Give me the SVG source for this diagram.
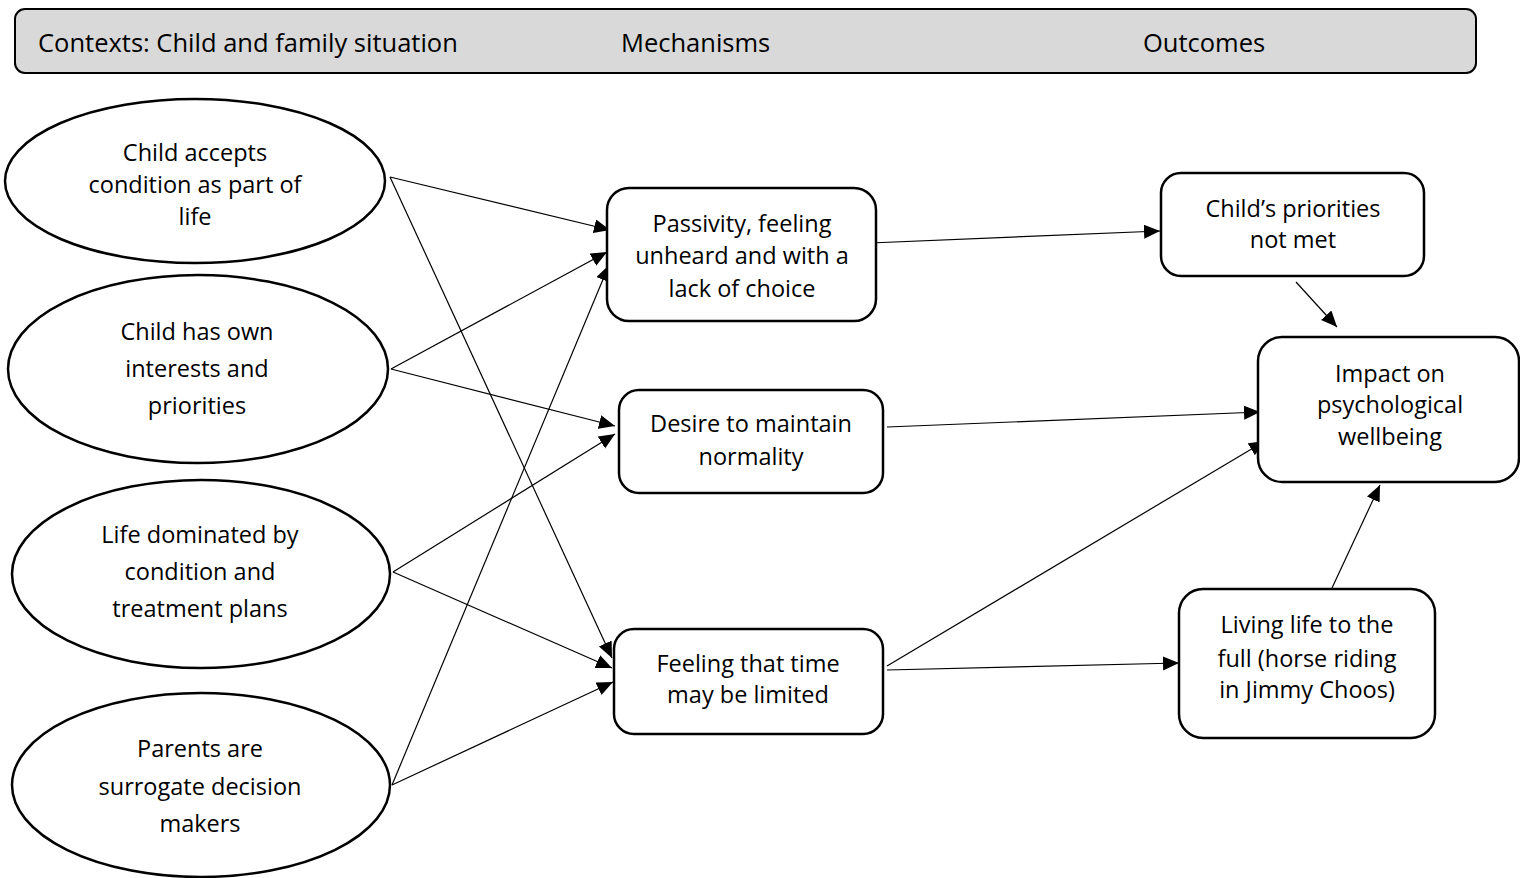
<svg xmlns="http://www.w3.org/2000/svg" width="1520" height="878" viewBox="0 0 1520 878">
<style>
  .bg { fill: #ffffff; }
  .hdr { fill: #d9d9d9; stroke: #000; stroke-width: 2; }
  .node { fill: #ffffff; stroke: #000; stroke-width: 2.5; }
  .t { font-family: "Open Sans", "Liberation Sans", sans-serif; font-size: 23.5px; fill: #000; text-anchor: middle; }
  .h { font-family: "Open Sans", "Liberation Sans", sans-serif; font-size: 25.5px; fill: #000; }
  .edge { stroke: #000; stroke-width: 1.2; fill: none; marker-end: url(#arr); }
</style>
<defs>
  <marker id="arr" markerUnits="userSpaceOnUse" markerWidth="17" markerHeight="15" refX="16" refY="7" orient="auto">
    <path d="M0,0 L16,7 L0,14 z" fill="#000"/>
  </marker>
</defs>
<rect class="bg" x="0" y="0" width="1520" height="878"/>

<g id="header">
  <rect class="hdr" x="15" y="9" width="1461" height="64" rx="10"/>
  <text class="h" x="38" y="52">Contexts: Child and family situation</text>
  <text class="h" x="621" y="52">Mechanisms</text>
  <text class="h" x="1143" y="52">Outcomes</text>
</g>

<g id="connectors">
  <line class="edge" x1="390" y1="177" x2="610" y2="230"/>
  <line class="edge" x1="390" y1="177" x2="612" y2="658"/>
  <line class="edge" x1="391" y1="369" x2="607" y2="252"/>
  <line class="edge" x1="391" y1="369" x2="615" y2="426"/>
  <line class="edge" x1="393" y1="572" x2="615" y2="434"/>
  <line class="edge" x1="393" y1="572" x2="612" y2="668"/>
  <line class="edge" x1="392" y1="785" x2="609" y2="265"/>
  <line class="edge" x1="392" y1="785" x2="613" y2="682"/>
  <line class="edge" x1="870" y1="243" x2="1160" y2="231"/>
  <line class="edge" x1="887" y1="427" x2="1260" y2="412"/>
  <line class="edge" x1="887" y1="666" x2="1265" y2="441"/>
  <line class="edge" x1="887" y1="670" x2="1179" y2="663"/>
  <line class="edge" x1="1296" y1="282" x2="1337" y2="327"/>
  <line class="edge" x1="1332" y1="588" x2="1380" y2="485"/>
</g>

<g id="n-accepts">
  <ellipse class="node" cx="195" cy="181" rx="190" ry="82"/>
  <text class="t" x="195" y="161">Child accepts</text>
  <text class="t" x="195" y="193">condition as part of</text>
  <text class="t" x="195" y="225">life</text>
</g>
<g id="n-interests">
  <ellipse class="node" cx="198" cy="369" rx="190" ry="94"/>
  <text class="t" x="197" y="340">Child has own</text>
  <text class="t" x="197" y="377">interests and</text>
  <text class="t" x="197" y="414">priorities</text>
</g>
<g id="n-dominated">
  <ellipse class="node" cx="201" cy="574" rx="189" ry="94"/>
  <text class="t" x="200" y="543">Life dominated by</text>
  <text class="t" x="200" y="580">condition and</text>
  <text class="t" x="200" y="617">treatment plans</text>
</g>
<g id="n-parents">
  <ellipse class="node" cx="201" cy="785" rx="189" ry="92"/>
  <text class="t" x="200" y="757">Parents are</text>
  <text class="t" x="200" y="795">surrogate decision</text>
  <text class="t" x="200" y="832">makers</text>
</g>

<g id="n-passivity">
  <rect class="node" x="607" y="188" width="269" height="133" rx="22"/>
  <text class="t" x="742" y="232">Passivity, feeling</text>
  <text class="t" x="742" y="264">unheard and with a</text>
  <text class="t" x="742" y="297">lack of choice</text>
</g>
<g id="n-desire">
  <rect class="node" x="619" y="390" width="264" height="103" rx="20"/>
  <text class="t" x="751" y="432">Desire to maintain</text>
  <text class="t" x="751" y="465">normality</text>
</g>
<g id="n-time">
  <rect class="node" x="614" y="629" width="269" height="105" rx="20"/>
  <text class="t" x="748" y="672">Feeling that time</text>
  <text class="t" x="748" y="703">may be limited</text>
</g>

<g id="n-priorities">
  <rect class="node" x="1161" y="173" width="263" height="103" rx="20"/>
  <text class="t" x="1293" y="217">Child’s priorities</text>
  <text class="t" x="1293" y="248">not met</text>
</g>
<g id="n-impact">
  <rect class="node" x="1258" y="337" width="261" height="145" rx="24"/>
  <text class="t" x="1390" y="382">Impact on</text>
  <text class="t" x="1390" y="413">psychological</text>
  <text class="t" x="1390" y="445">wellbeing</text>
</g>
<g id="n-living">
  <rect class="node" x="1179" y="589" width="256" height="149" rx="24"/>
  <text class="t" x="1307" y="633">Living life to the</text>
  <text class="t" x="1307" y="667">full (horse riding</text>
  <text class="t" x="1307" y="698">in Jimmy Choos)</text>
</g>
</svg>
